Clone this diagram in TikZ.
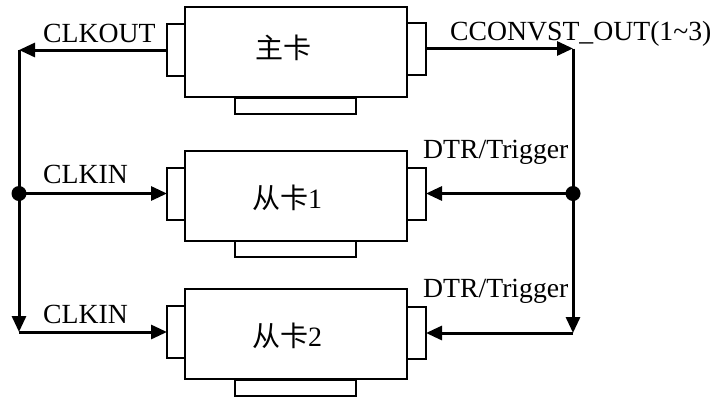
\documentclass[tikz,border=0pt]{standalone}
\usepackage{fontspec}
\setmainfont{Liberation Serif}
\newfontfamily\cjk{Noto Sans CJK SC}
\usetikzlibrary{arrows.meta}
\tikzset{
  card/.style={draw, line width=2pt, minimum width=222pt, minimum height=90pt, inner sep=0pt, outer sep=0pt},
  sidetab/.style={draw, line width=2pt, minimum width=18pt, minimum height=52pt, inner sep=0pt, outer sep=0pt},
  bottab/.style={draw, line width=2pt, minimum width=121pt, minimum height=16pt, inner sep=0pt, outer sep=0pt},
  arr/.style={line width=3pt, -{Triangle[length=16pt,width=14pt]}},
  wire/.style={line width=3pt},
  dotnode/.style={circle, fill=black, minimum size=15pt, inner sep=0pt},
  sig/.style={inner sep=0pt, anchor=base west, font=\fontsize{27.7}{30}\selectfont},
  title/.style={inner sep=0pt, font=\fontsize{28}{30}\selectfont}
}
\begin{document}
\begin{tikzpicture}[x=1pt,y=-1pt]
\useasboundingbox (0,0) rectangle (715,397);
% main card
\node[bottab] (mB) at (295.5,105.5) {};
\node[card, fill=white] (m) at (296,52) {};
\node[sidetab] (mL) at (176,50) {};
\node[sidetab, minimum width=19pt] (mR) at (416.5,48.5) {};
\node[title] (mT) at (283,48) {\cjk 主卡};
% slave 1
\node[bottab] (s1B) at (295.5,249) {};
\node[card, fill=white] (s1) at (296,195.5) {};
\node[sidetab] (s1L) at (176,193.5) {};
\node[sidetab, minimum width=19pt] (s1R) at (416.5,193.5) {};
\node[title] (s1T) at (287,198) {{\cjk 从卡}1};
% slave 2
\node[bottab] (s2B) at (295.5,387.5) {};
\node[card, fill=white] (s2) at (296,333.5) {};
\node[sidetab] (s2L) at (176,332) {};
\node[sidetab, minimum width=19pt] (s2R) at (416.5,333) {};
\node[title] (s2T) at (287,336) {{\cjk 从卡}2};
% left bus
\coordinate (la) at (19,50);
\draw[arr] (mL.west) -- (la);
\draw[arr] (la) -- (la |- s2L.west);
\draw[arr] (la |- s2L.west) -- (s2L.west);
\node[dotnode] (dl) at (la |- s1L.west) {};
\draw[arr] (dl.center) -- (s1L.west);
% right bus
\coordinate (ra) at (573,50);
\draw[arr] (mR.east) -- (mR.east -| ra);
\draw[arr] (mR.east -| ra) -- (ra |- s2R.east);
\draw[arr] (ra |- s2R.east) -- (s2R.east);
\node[dotnode] (dr) at (ra |- s1R.east) {};
\draw[arr] (dr.center) -- (s1R.east);
% labels
\node[sig] (l1) at (43,42) {CLKOUT};
\node[sig] (l2) at (450,40) {CCONVST\_OUT(1\textasciitilde3)};
\node[sig] (l3) at (43,183) {CLKIN};
\node[sig] (l4) at (43,323) {CLKIN};
\node[sig] (l5) at (423,158) {DTR/Trigger};
\node[sig] (l6) at (423,297) {DTR/Trigger};
\end{tikzpicture}
\end{document}
